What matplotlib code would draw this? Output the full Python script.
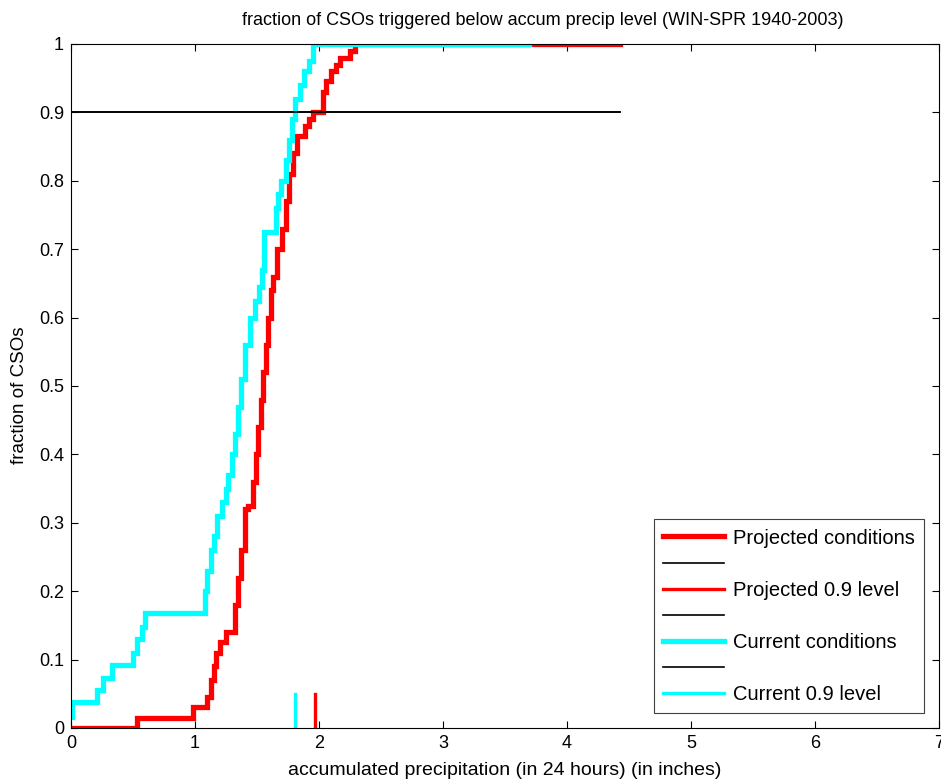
import matplotlib
matplotlib.use("Agg")
import matplotlib.pyplot as plt
from matplotlib.lines import Line2D

plt.rcParams['font.family'] = ['Liberation Sans', 'DejaVu Sans']

title = "fraction of CSOs triggered below accum precip level (WIN-SPR 1940-2003)"
xlabel = "accumulated precipitation (in 24 hours) (in inches)"
ylabel = "fraction of CSOs"

# Current conditions empirical CDF (step positions / levels)
cur_x = [0.0, 0.01, 0.21, 0.26, 0.33, 0.50, 0.53, 0.57, 0.60, 1.08, 1.10, 1.13, 1.15,
         1.18, 1.22, 1.25, 1.27, 1.30, 1.32, 1.35, 1.37, 1.40, 1.44, 1.48, 1.52, 1.54,
         1.56, 1.65, 1.67, 1.69, 1.73, 1.76, 1.78, 1.81, 1.85, 1.88, 1.92, 1.95, 3.69]
cur_y = [0.016, 0.038, 0.055, 0.073, 0.092, 0.11, 0.13, 0.148, 0.168, 0.20, 0.23, 0.26, 0.28,
         0.31, 0.33, 0.35, 0.37, 0.40, 0.43, 0.47, 0.51, 0.56, 0.60, 0.625, 0.645, 0.67,
         0.725, 0.76, 0.78, 0.80, 0.83, 0.86, 0.89, 0.92, 0.94, 0.96, 0.975, 1.0, 1.0]

# Projected conditions empirical CDF
proj_x = [0.0, 0.53, 0.98, 1.10, 1.13, 1.15, 1.17, 1.20, 1.25, 1.32, 1.35, 1.37, 1.40,
          1.43, 1.47, 1.49, 1.51, 1.53, 1.55, 1.57, 1.59, 1.61, 1.63, 1.66, 1.70, 1.73,
          1.76, 1.79, 1.82, 1.89, 1.92, 1.95, 2.03, 2.06, 2.10, 2.14, 2.17, 2.25, 2.29, 4.43]
proj_y = [0.0, 0.015, 0.03, 0.045, 0.07, 0.09, 0.11, 0.126, 0.14, 0.18, 0.22, 0.26, 0.32,
          0.325, 0.36, 0.40, 0.44, 0.48, 0.52, 0.56, 0.60, 0.64, 0.66, 0.70, 0.73, 0.77,
          0.81, 0.84, 0.866, 0.88, 0.89, 0.90, 0.93, 0.946, 0.96, 0.97, 0.98, 0.99, 1.0, 1.0]

level = 0.9
level_x_end = 4.43
proj_level = 1.97
cur_level = 1.81
mark_height = 0.05

legend_labels = ["Projected conditions", "", "Projected 0.9 level", "",
                 "Current conditions", "", "Current 0.9 level"]

xticks = [0, 1, 2, 3, 4, 5, 6, 7]
yticks = [0, 0.1, 0.2, 0.3, 0.4, 0.5, 0.6, 0.7, 0.8, 0.9, 1.0]
yticklabels = ["0", "0.1", "0.2", "0.3", "0.4", "0.5", "0.6", "0.7", "0.8", "0.9", "1"]

fig = plt.figure(figsize=(9.41, 7.81), dpi=100)
ax = fig.add_axes([71/941, 53/781, 868/941, 684/781])

red = '#ff0000'
cyan = '#00ffff'

h1, = ax.step(proj_x, proj_y, where='post', color=red, lw=3.8, solid_joinstyle='miter')
h2, = ax.plot([0, level_x_end], [level, level], color='black', lw=1.2)
h3, = ax.plot([proj_level, proj_level], [0, mark_height], color=red, lw=2.4)
h4, = ax.step(cur_x, cur_y, where='post', color=cyan, lw=3.8, solid_joinstyle='miter')
h5, = ax.plot([0, level_x_end], [level, level], color='black', lw=1.2)
h6, = ax.plot([cur_level, cur_level], [0, mark_height], color=cyan, lw=2.4)
h7 = Line2D([], [], color='black', lw=1.2)

handles = [h1, h2, h3, h5, h4, h7, h6]
leg = ax.legend(handles, legend_labels, loc='lower right', fontsize=14.5,
                frameon=True, fancybox=False, framealpha=1, edgecolor='#404040',
                handlelength=3.0, handletextpad=0.45, labelspacing=0.35,
                borderaxespad=0.75, borderpad=0.45)
leg.get_frame().set_linewidth(0.8)

ax.set_xlim(0, 7)
ax.set_ylim(0, 1)
ax.set_xticks(xticks)
ax.set_xticklabels([str(t) for t in xticks])
ax.set_yticks(yticks)
ax.set_yticklabels(yticklabels)
ax.tick_params(direction='in', top=True, right=True, length=5, width=0.8,
               labelsize=13, pad=5)
for s in ax.spines.values():
    s.set_linewidth(0.8)

ax.set_title(title, fontsize=13, pad=14, x=0.543)
ax.set_xlabel(xlabel, fontsize=14, labelpad=7)
ax.set_ylabel(ylabel, fontsize=13.5)
ax.yaxis.set_label_coords(-0.049, 0.487)

fig.savefig("out.png", dpi=100)
